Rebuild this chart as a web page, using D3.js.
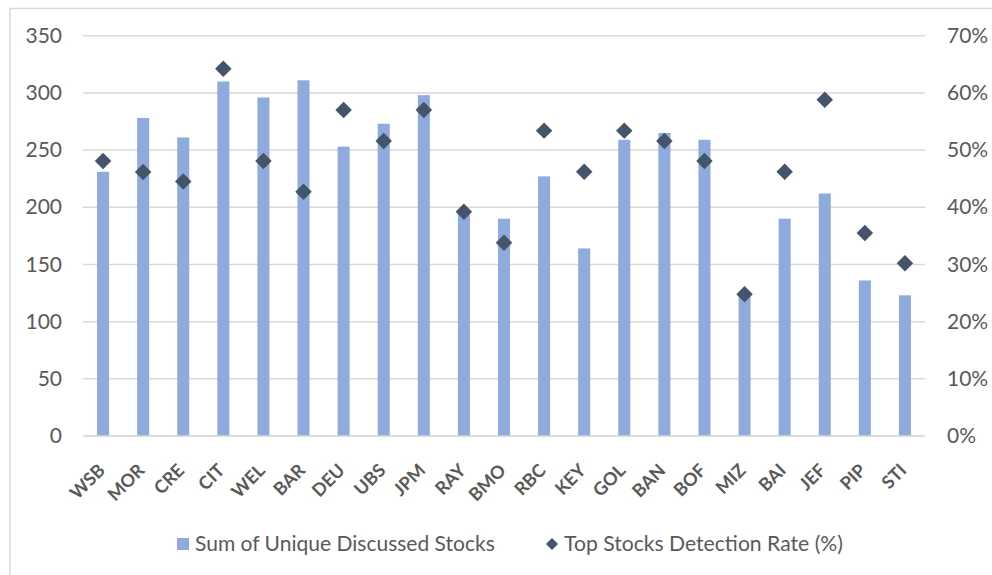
<!DOCTYPE html>
<html><head><meta charset="utf-8">
<script src="https://cdn.jsdelivr.net/npm/d3@7"></script>
<style>
html,body{margin:0;padding:0;background:#fff;}
#wrap{position:relative;width:992px;height:575px;}
svg{display:block;position:absolute;left:0;top:0;}
.xl{position:absolute;width:0;height:0;}
.xl span{position:absolute;right:0;bottom:0;white-space:nowrap;line-height:1;
  font-family:Lato,'Open Sans',sans-serif;font-size:18px;font-weight:bold;color:#595959;
  transform-origin:100% 100%;transform:rotate(-45deg);}
</style></head>
<body>
<div id="wrap"><svg id="chart" width="992" height="575"></svg></div>
<script>
const categories = ["WSB","MOR","CRE","CIT","WEL","BAR","DEU","UBS","JPM","RAY","BMO","RBC","KEY","GOL","BAN","BOF","MIZ","BAI","JEF","PIP","STI"];
const uniqueStocks = [231,278,261,310,296,311,253,273,298,197,190,227,164,259,265,259,125,190,212,136,123];
const detectionRate = [0.481,0.4615,0.445,0.642,0.481,0.427,0.570,0.516,0.570,0.392,0.338,0.534,0.462,0.534,0.516,0.481,0.248,0.462,0.588,0.355,0.302];
const leftTicks = [0,50,100,150,200,250,300,350];
const rightTicks = [0,0.1,0.2,0.3,0.4,0.5,0.6,0.7];
const seriesNames = ["Sum of Unique Discussed Stocks","Top Stocks Detection Rate (%)"];

const FONT = "Lato, 'Open Sans', sans-serif";
const TXT = "#595959", BAR = "#8FAADC", DIA = "#44546A", GRID = "#D9D9D9";

const svg = d3.select("#chart");
// outer frame (top and left edges)
svg.append("line").attr("x1",10).attr("x2",992).attr("y1",8.5).attr("y2",8.5).attr("stroke",GRID).attr("stroke-width",1.5);
svg.append("line").attr("x1",10).attr("x2",10).attr("y1",8).attr("y2",575).attr("stroke",GRID).attr("stroke-width",1.5);

const x = d3.scaleBand().domain(categories).range([83,925]).paddingInner(0.7).paddingOuter(0.35);
const yL = d3.scaleLinear().domain([0,350]).range([436,35.7]);
const yR = d3.scaleLinear().domain([0,0.7]).range([436,35.7]);

// gridlines
svg.append("g").selectAll("line").data(leftTicks).join("line")
  .attr("x1",83).attr("x2",925).attr("y1",d=>yL(d)).attr("y2",d=>yL(d))
  .attr("stroke",GRID).attr("stroke-width",1.5);

// left axis
const axL = svg.append("g").attr("transform","translate(83,0)")
  .call(d3.axisLeft(yL).tickValues(leftTicks).tickSize(0).tickPadding(21).tickFormat(d3.format("d")));
axL.select(".domain").remove();
axL.selectAll("text").attr("font-family",FONT).attr("font-size",21).attr("fill",TXT);

// right axis
const axR = svg.append("g").attr("transform","translate(925,0)")
  .call(d3.axisRight(yR).tickValues(rightTicks).tickSize(0).tickPadding(22).tickFormat(d3.format(".0%")));
axR.select(".domain").remove();
axR.selectAll("text").attr("font-family",FONT).attr("font-size",21).attr("fill",TXT);

// bars
svg.append("g").selectAll("rect").data(categories).join("rect")
  .attr("x",d=>x(d)).attr("width",x.bandwidth())
  .attr("y",(d,i)=>yL(uniqueStocks[i])).attr("height",(d,i)=>yL(0)-yL(uniqueStocks[i]))
  .attr("fill",BAR);

// baseline axis
svg.append("line").attr("x1",83).attr("x2",925).attr("y1",yL(0)).attr("y2",yL(0)).attr("stroke",GRID).attr("stroke-width",1.5);

// diamonds
const diamond = d3.symbol().type(d3.symbolSquare).size(136);
svg.append("g").selectAll("path").data(categories).join("path")
  .attr("d",diamond)
  .attr("transform",(d,i)=>`translate(${x(d)+x.bandwidth()/2},${yR(detectionRate[i])}) rotate(45)`)
  .attr("fill",DIA);

// x labels (rotated, HTML overlay)
d3.select("#wrap").selectAll("div.xl").data(categories).join("div")
  .attr("class","xl")
  .style("left",d=>(x(d)+x.bandwidth()/2+4)+"px")
  .style("top","473px")
  .append("span").text(d=>d);

// legend
const lg = svg.append("g").attr("font-family",FONT).attr("font-size",20).attr("fill",TXT);
lg.append("rect").attr("x",177).attr("y",538).attr("width",12).attr("height",12).attr("fill",BAR);
const t1 = lg.append("text").attr("x",195).attr("y",551).text(seriesNames[0]);
lg.append("path").attr("d",d3.symbol().type(d3.symbolSquare).size(72)).attr("transform","translate(552,544) rotate(45)").attr("fill",DIA);
const t2 = lg.append("text").attr("x",564).attr("y",551).text(seriesNames[1]);
// fit legend text widths to the reference's measured widths
[[t1,300],[t2,279]].forEach(([t,w])=>{
  const cur = t.node().getComputedTextLength();
  if (cur>0) t.attr("font-size", 20*w/cur);
});
</script>
</body></html>
